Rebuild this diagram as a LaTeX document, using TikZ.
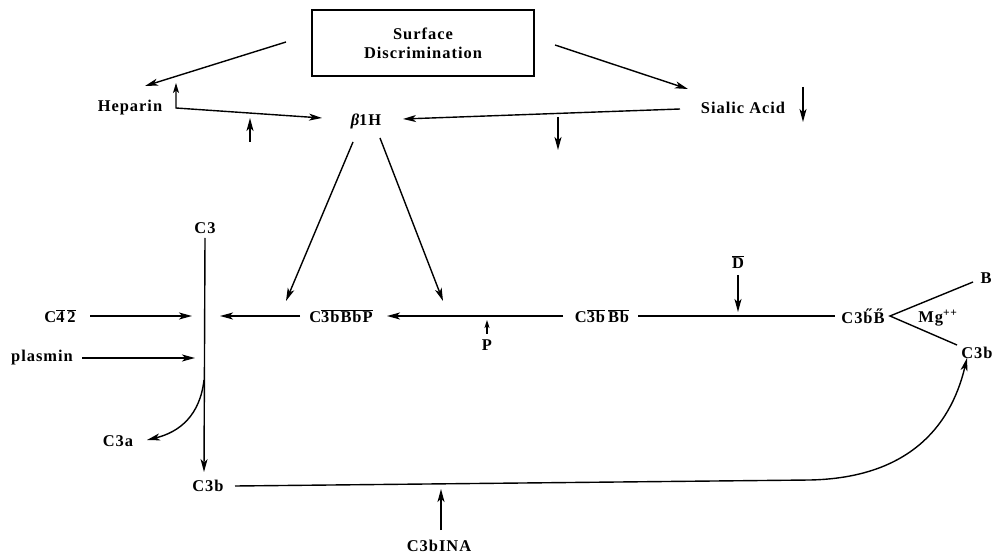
\documentclass[tikz,border=0pt]{standalone}
\usepackage{fontspec}
\setmainfont[LetterSpace=6]{Liberation Serif}
\usetikzlibrary{arrows.meta}
\begin{document}
\begin{tikzpicture}[x=1bp,y=-1bp,
  font=\fontsize{16.5}{19}\selectfont\bfseries,
  lbl/.style={inner sep=0pt, anchor=center},
  ln/.style={line width=1.4bp},
  arr/.style={ln, -{Stealth[length=13bp,width=7bp,inset=3.5bp]}},
  sarr/.style={ln, -{Stealth[length=8bp,width=5bp,inset=2bp]}},
  barr/.style={ln, {Stealth[length=10bp,width=6bp,inset=2.5bp]}-{Stealth[length=13bp,width=7bp,inset=3.5bp]}}]
\useasboundingbox (0,0) rectangle (994,554);
% nodes
\node[draw, line width=1.7bp, minimum width=222bp, minimum height=66bp, inner sep=0pt, align=center] (box) at (423,43) {Surface\\Discrimination};
\node[lbl] (hep) at (130,108) {Heparin};
\node[lbl] (beta) at (366,121) {{\itshape β}1H};
\node[lbl] (sia) at (743,108) {Sialic Acid};
\node[lbl] (c3) at (205,228) {C3};
\node[lbl] (c42) at (60,316) {C$\overline{\hbox{4}}\,\overline{\hbox{2}}$};
\node[lbl] (pla) at (42,358) {plasmin};
\node[lbl] (cbbp) at (341,316) {C$\overline{\hbox{3bBbP}}$};
\node[lbl] (p) at (487,345) {P};
\node[lbl] (cbb) at (602,316) {C$\overline{\hbox{3b}}\,\overline{\hbox{Bb}}$};
\node[lbl] (d) at (738,262) {$\overline{\hbox{D}}$};
\node[lbl] (cbB) at (863,316) {C3\H{b}\H{B}};
\node[lbl] (b) at (986,278) {B};
\node[lbl] (mg) at (938,318) {Mg\textsuperscript{++}};
\node[lbl] (c3br) at (977,353) {C3b};
\node[lbl] (c3bl) at (208,486) {C3b};
\node[lbl] (c3a) at (118,441) {C3a};
\node[lbl] (ina) at (439,546) {C3bINA};
% coordinates
\coordinate (boxl) at (286,42);
\coordinate (hepe) at (145,86);
\coordinate (hu) at (176,83);
\coordinate (hc) at (176,108);
\coordinate (be) at (322,118);
\coordinate (u1a) at (250,142);
\coordinate (u1b) at (250,118);
\coordinate (boxr) at (555,45);
\coordinate (siae) at (688,89);
\coordinate (sias) at (680,109);
\coordinate (betar) at (403,119);
\coordinate (sd1) at (803,87);
\coordinate (sd2) at (803,122);
\coordinate (md1) at (558,117);
\coordinate (md2) at (558,150);
\coordinate (bl1) at (353,142);
\coordinate (bl2) at (286,301);
\coordinate (br1) at (380,138);
\coordinate (br2) at (443,301);
\coordinate (vt) at (205,238);
\coordinate (vb) at (204,472);
\coordinate (c42s) at (90,316);
\coordinate (c42e) at (192,316);
\coordinate (plas) at (82,358);
\coordinate (plae) at (195,358);
\coordinate (mids) at (300,316);
\coordinate (mide) at (220,316);
\coordinate (rs) at (563,316);
\coordinate (re) at (387,316);
\coordinate (pu) at (487,320);
\coordinate (pb) at (487,334);
\coordinate (dt) at (738,275);
\coordinate (db) at (738,312);
\coordinate (ls) at (638,316);
\coordinate (le) at (835,316);
\coordinate (fork) at (890,316);
\coordinate (fb) at (973,282);
\coordinate (fc) at (957,345);
\coordinate (va) at (204,380);
\coordinate (c3ae) at (147,440);
\coordinate (bs) at (235,486);
\coordinate (lt) at (810,480);
\coordinate (c3re) at (967,358);
\coordinate (inab) at (441,530);
\coordinate (inat) at (441,489);
% connectors
\draw[arr] (boxl) -- (hepe);
\draw[barr] (hu) -- (hc) -- (be);
\draw[arr] (u1a) -- (u1b);
\draw[arr] (boxr) -- (siae);
\draw[arr] (sias) -- (betar);
\draw[arr] (sd1) -- (sd2);
\draw[arr] (md1) -- (md2);
\draw[arr] (bl1) -- (bl2);
\draw[arr] (br1) -- (br2);
\draw[arr] (vt) -- (vb);
\draw[arr] (c42s) -- (c42e);
\draw[arr] (plas) -- (plae);
\draw[arr] (mids) -- (mide);
\draw[arr] (rs) -- (re);
\draw[sarr] (pb) -- (pu);
\draw[arr] (dt) -- (db);
\draw[ln] (ls) -- (le);
\draw[ln] (fb) -- (fork) -- (fc);
\draw[arr] (va) .. controls (200,415) and (180,432) .. (c3ae);
\draw[arr] (bs) -- (lt) .. controls (905,478) and (950,430) .. (c3re);
\draw[arr] (inab) -- (inat);
\end{tikzpicture}
\end{document}
